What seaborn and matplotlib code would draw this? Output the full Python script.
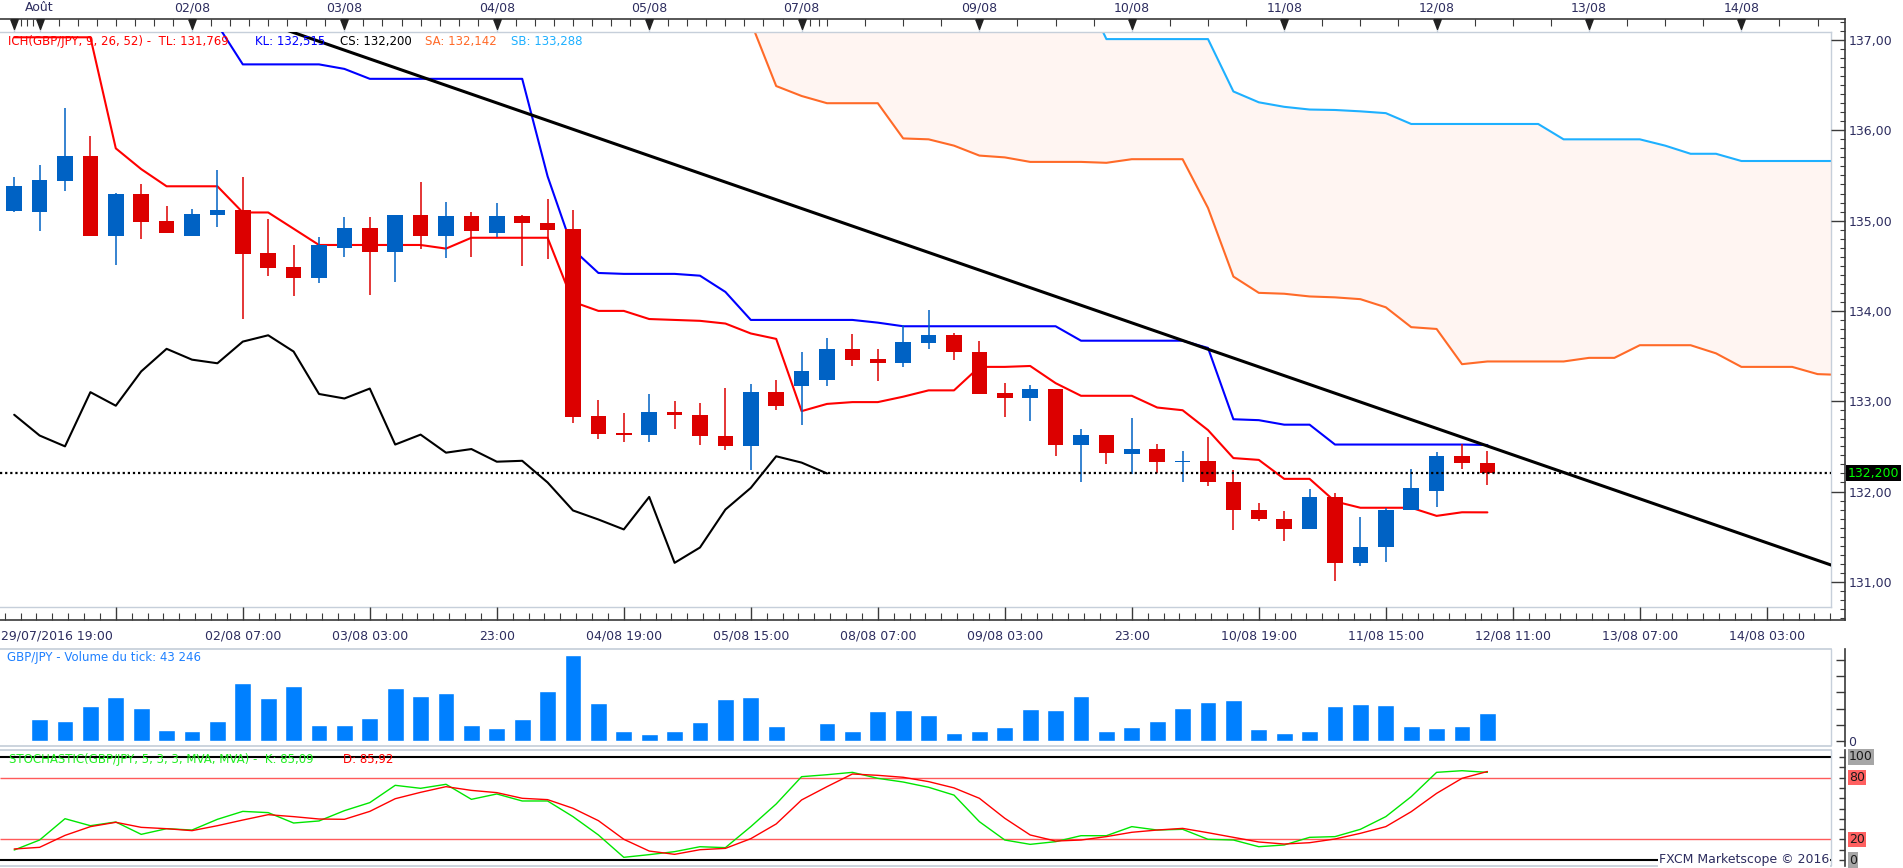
import matplotlib
matplotlib.use("Agg")
import matplotlib.pyplot as plt
from matplotlib.path import Path
from matplotlib.ticker import FixedLocator
import numpy as np
import pandas as pd
import seaborn as sns

# ---------------- data (4h bars, GBP/JPY) ----------------
opens = [135.11, 135.10, 135.44, 135.72, 134.83, 135.30, 135.00, 134.83, 135.06, 135.12,
         134.64, 134.49, 134.36, 134.70, 134.92, 134.65, 135.06, 134.83, 135.05, 134.86,
         135.05, 134.97, 134.91, 132.84, 132.65, 132.63, 132.88, 132.85, 132.62, 132.50,
         133.10, 133.17, 133.23, 133.58, 133.47, 133.42, 133.65, 133.73, 133.55, 133.09,
         133.03, 133.14, 132.52, 132.63, 132.41, 132.47, 132.33, 132.34, 132.10, 131.79,
         131.69, 131.58, 131.94, 131.21, 131.38, 131.80, 132.01, 132.39, 132.32]
highs = [135.48, 135.62, 136.25, 135.94, 135.31, 135.41, 135.16, 135.13, 135.56, 135.48,
         135.02, 134.73, 134.82, 135.04, 135.04, 135.06, 135.43, 135.21, 135.09, 135.20,
         135.06, 135.24, 135.12, 133.01, 132.87, 133.08, 133.00, 132.98, 133.15, 133.19,
         133.23, 133.54, 133.70, 133.74, 133.58, 133.84, 134.01, 133.76, 133.67, 133.20,
         133.18, 133.14, 132.69, 132.63, 132.81, 132.53, 132.45, 132.60, 132.24, 131.87,
         131.78, 132.03, 131.98, 131.72, 131.82, 132.25, 132.44, 132.53, 132.45]
lows = [135.10, 134.88, 135.33, 134.83, 134.51, 134.80, 134.86, 134.83, 134.93, 133.91,
        134.39, 134.17, 134.31, 134.60, 134.18, 134.32, 134.69, 134.59, 134.60, 134.82,
        134.50, 134.58, 132.76, 132.58, 132.55, 132.55, 132.69, 132.52, 132.46, 132.24,
        132.90, 132.74, 133.17, 133.39, 133.22, 133.38, 133.58, 133.46, 133.08, 132.83,
        132.78, 132.39, 132.10, 132.30, 132.19, 132.21, 132.10, 132.06, 131.57, 131.67,
        131.45, 131.58, 131.01, 131.18, 131.22, 131.79, 131.83, 132.25, 132.07]
closes = [135.38, 135.45, 135.72, 134.83, 135.30, 134.99, 134.86, 135.07, 135.12, 134.63,
          134.48, 134.36, 134.73, 134.92, 134.65, 135.06, 134.83, 135.05, 134.88, 135.05,
          134.97, 134.90, 132.83, 132.64, 132.63, 132.88, 132.85, 132.62, 132.50, 133.10,
          132.95, 133.33, 133.58, 133.46, 133.42, 133.66, 133.73, 133.55, 133.08, 133.03,
          133.14, 132.52, 132.63, 132.43, 132.47, 132.33, 132.34, 132.10, 131.79, 131.69,
          131.58, 131.94, 131.21, 131.38, 131.80, 132.04, 132.39, 132.32, 132.20]

tenkan = [137.03, 137.03, 137.03, 137.03, 135.80, 135.57, 135.38, 135.38, 135.38, 135.09,
          135.09, 134.91, 134.73, 134.73, 134.73, 134.73, 134.73, 134.69, 134.81, 134.81,
          134.81, 134.81, 134.10, 134.00, 134.00, 133.91, 133.90, 133.89, 133.86, 133.75,
          133.69, 132.89, 132.97, 132.99, 132.99, 133.05, 133.12, 133.12, 133.38, 133.38,
          133.39, 133.20, 133.06, 133.06, 133.06, 132.93, 132.90, 132.68, 132.37, 132.35,
          132.14, 132.14, 131.89, 131.82, 131.82, 131.82, 131.73, 131.77, 131.769]
kijun = [137.60, 137.60, 137.60, 137.60, 137.60, 137.60, 137.60, 137.60, 137.17, 136.73,
         136.73, 136.73, 136.73, 136.68, 136.57, 136.57, 136.57, 136.57, 136.57, 136.57,
         136.57, 135.49, 134.68, 134.42, 134.41, 134.41, 134.41, 134.39, 134.21, 133.90,
         133.90, 133.90, 133.90, 133.90, 133.87, 133.83, 133.83, 133.83, 133.83, 133.83,
         133.83, 133.83, 133.67, 133.67, 133.67, 133.67, 133.67, 133.59, 132.80, 132.79,
         132.74, 132.74, 132.52, 132.52, 132.52, 132.52, 132.52, 132.52, 132.515]
chikou_shift = 26
cloud_first_bar = 28
senkou_a = [137.60, 137.20, 136.49, 136.38, 136.30, 136.30, 136.30, 135.91, 135.90, 135.83,
            135.72, 135.70, 135.65, 135.65, 135.65, 135.64, 135.68, 135.68, 135.68, 135.14,
            134.38, 134.20, 134.19, 134.16, 134.15, 134.13, 134.04, 133.82, 133.80, 133.41,
            133.44, 133.44, 133.44, 133.44, 133.48, 133.48, 133.62, 133.62, 133.62, 133.53,
            133.38, 133.38, 133.38, 133.30, 133.29]
senkou_b = [137.60, 137.60, 137.60, 137.60, 137.60, 137.60, 137.60, 137.60, 137.60, 137.60,
            137.60, 137.60, 137.60, 137.60, 137.60, 137.01, 137.01, 137.01, 137.01, 137.01,
            136.43, 136.31, 136.26, 136.23, 136.225, 136.21, 136.19, 136.07, 136.07, 136.07,
            136.07, 136.07, 136.07, 135.90, 135.90, 135.90, 135.90, 135.83, 135.74, 135.74,
            135.66, 135.66, 135.66, 135.66, 135.66]
trend_bar = [10, 72]
trend_price = [137.18, 131.14]
last_price = 132.200

volume = [1500, 33980, 30890, 54050, 67950, 50970, 16990, 15440, 30890, 89580,
          66410, 84940, 24710, 24710, 35520, 81850, 69500, 74130, 24710, 20080,
          33980, 77220, 132820, 58690, 15440, 10810, 15440, 29340, 64870, 67950,
          23170, 1500, 27800, 15440, 46850, 47880, 40150, 12360, 15440, 21620,
          49420, 47880, 69500, 15440, 21620, 30890, 50970, 60230, 63320, 18530,
          12360, 15440, 54050, 57140, 55600, 23170, 20080, 23170, 43246]

stoch_k = [9.7, 19.4, 40.1, 33.3, 36.9, 24.9, 30.4, 29.1, 39.5, 47.2,
           46.0, 35.9, 37.9, 47.9, 55.7, 72.5, 69.6, 73.5, 58.9, 64.1,
           57.3, 57.3, 42.1, 24.3, 2.6, 5.2, 8.1, 12.9, 12.0, 32.4,
           54.4, 80.9, 82.8, 85.1, 79.3, 75.7, 70.6, 63.0, 37.2, 19.4,
           15.2, 17.8, 23.6, 23.6, 32.4, 29.1, 29.8, 20.1, 19.4, 12.9,
           14.6, 22.0, 22.7, 29.8, 42.1, 61.5, 85.1, 86.7, 85.09]
stoch_d = [10.7, 12.3, 23.9, 32.4, 36.6, 31.7, 30.4, 28.5, 33.3, 38.8,
           44.0, 42.1, 39.8, 39.5, 47.2, 59.5, 65.7, 71.2, 67.6, 65.4,
           59.9, 58.6, 50.2, 38.2, 20.1, 8.7, 5.5, 10.0, 11.3, 20.7,
           35.0, 58.3, 71.2, 83.5, 82.2, 80.3, 76.1, 70.0, 59.9, 40.5,
           24.3, 18.4, 19.4, 22.7, 26.9, 29.1, 30.7, 26.5, 22.0, 17.5,
           15.5, 16.8, 20.4, 25.9, 32.4, 46.9, 64.7, 79.3, 85.92]
stoch_levels = [100, 80, 20, 0]
stoch_level_labels = ["100", "80", "20", "0"]

price_ticks = [131, 132, 133, 134, 135, 136, 137]
price_tick_labels = ["131,00", "132,00", "133,00", "134,00", "135,00", "136,00", "137,00"]
day_label_bars = [1, 7, 13, 19, 25, 31, 38, 44, 50, 56, 62, 68]
day_labels = ["Août", "02/08", "03/08", "04/08", "05/08", "07/08", "09/08",
              "10/08", "11/08", "12/08", "13/08", "14/08"]
day_marker_bars = [0, 1, 7, 13, 19, 25, 31, 38, 44, 50, 56, 62, 68]
time_label_bars = [4, 9, 14, 19, 24, 29, 34, 39, 44, 49, 54, 59, 64, 69]
time_labels = ["", "02/08 07:00", "03/08 03:00", "23:00", "04/08 19:00", "05/08 15:00",
               "08/08 07:00", "09/08 03:00", "23:00", "10/08 19:00", "11/08 15:00",
               "12/08 11:00", "13/08 07:00", "14/08 03:00"]
first_time_label = "29/07/2016 19:00"

legend_parts = ["ICH(GBP/JPY, 9, 26, 52) -  TL: 131,769", "KL: 132,515", "CS: 132,200",
                "SA: 132,142", "SB: 133,288"]
volume_title = "GBP/JPY - Volume du tick: 43 246"
stoch_title_k = "STOCHASTIC(GBP/JPY, 5, 3, 3, MVA, MVA) -  K: 85,09"
stoch_title_d = "D: 85,92"

# ---------------- style / layout ----------------
sns.set_theme(style="white")
plt.rcParams["font.family"] = ["DejaVu Sans"]

W, H = 1903, 868
fig = plt.figure(figsize=(W / 100, H / 100), dpi=100, facecolor="white")

BLUE, RED = "#0062C4", "#DC0000"
LIGHT, DARK, NAVY = "#C6CFDA", "#3A3A3A", "#2D2D5F"


def frac_rect(x0, y0, x1, y1):
    return [x0 / W, 1 - y1 / H, (x1 - x0) / W, (y1 - y0) / H]


def px_to_bar(px):
    return (px - 14.2) / 25.4


def py_to_price(py):
    return 137.0 - (py - 40.0) / 90.3


def ftext(xp, yp, s, **kw):
    return fig.text(xp / W, 1 - yp / H, s, **kw)


PANEL_R, AXIS_R = 1831, 1845
x_left = px_to_bar(0)
x_panel = px_to_bar(PANEL_R)
x_axis = px_to_bar(AXIS_R)

n = len(closes)
bars = np.arange(n)
df = pd.DataFrame({"bar": bars, "open": opens, "high": highs, "low": lows, "close": closes})

# ---------------- main price panel ----------------
ax = fig.add_axes(frac_rect(0, 32, PANEL_R, 607))
ax.set_facecolor("white")
ax.set_xlim(x_left, x_panel)
ax.set_ylim(py_to_price(607), py_to_price(32))

cloud_bars = np.arange(cloud_first_bar, cloud_first_bar + len(senkou_a))
ax.fill_between(cloud_bars, senkou_a, senkou_b, color="#FFF5F2", lw=0, zorder=1)
sns.lineplot(x=cloud_bars, y=senkou_a, ax=ax, color="#FF6A28", lw=1.5, zorder=2)
sns.lineplot(x=cloud_bars, y=senkou_b, ax=ax, color="#1EB0FF", lw=1.5, zorder=2)
sns.lineplot(x=bars[: n - chikou_shift], y=closes[chikou_shift:], ax=ax, color="black", lw=1.5, zorder=3)
sns.lineplot(x=bars, y=kijun, ax=ax, color="#0000FF", lw=1.5, zorder=3)
sns.lineplot(x=bars, y=tenkan, ax=ax, color="#FF0000", lw=1.5, zorder=3)

up = df["close"] >= df["open"]
cols = np.where(up, BLUE, RED)
ax.vlines(df["bar"], df["low"], df["high"], colors=cols, lw=1.1, zorder=4)
body = np.maximum((df["close"] - df["open"]).abs(), 0.012)
ax.bar(df["bar"], body, bottom=np.minimum(df["open"], df["close"]), width=0.62,
       color=cols, lw=0, zorder=5)

sns.lineplot(x=trend_bar, y=trend_price, ax=ax, color="black", lw=2.2, zorder=6)
ax.axhline(last_price, color="black", lw=1.6, ls=(0, (1, 1.3)), zorder=7)

ax.set_xticks([])
ax.set_yticks([])
ax.set_xlabel("")
ax.set_ylabel("")
for s in ["top", "right", "bottom"]:
    ax.spines[s].set_color(LIGHT)
    ax.spines[s].set_linewidth(1)
ax.spines["left"].set_visible(False)

# legend text
legend_x = [8, 255, 340, 425, 511]
legend_c = ["#FF0000", "#0000FF", "#000000", "#FF6A28", "#1EB0FF"]
for xp, s, c in zip(legend_x, legend_parts, legend_c):
    ftext(xp, 41, s, color=c, fontsize=8.5, ha="left", va="center", zorder=10)

# ---------------- frame axes with price / time ticks ----------------
axf = fig.add_axes(frac_rect(0, 19.3, AXIS_R, 620))
axf.patch.set_alpha(0)
axf.set_xlim(x_left, x_axis)
axf.set_ylim(py_to_price(620), py_to_price(19.3))
for s in ["top", "right", "bottom"]:
    axf.spines[s].set_color(DARK)
    axf.spines[s].set_linewidth(1.2)
axf.spines["left"].set_visible(False)
axf.yaxis.tick_right()
axf.set_yticks(price_ticks, price_tick_labels)
axf.yaxis.set_minor_locator(FixedLocator(np.round(np.arange(130.6, 137.21, 0.1), 2)))
axf.tick_params(axis="y", which="major", direction="in", length=10, width=1, color=DARK,
                labelcolor=NAVY, labelsize=9, pad=2.5, right=True, left=False)
axf.tick_params(axis="y", which="minor", direction="in", length=3.6, width=0.8, color=DARK,
                right=True, left=False)
axf.set_xticks(time_label_bars, time_labels)
axf.xaxis.set_minor_locator(FixedLocator(np.arange(-0.375, 72.1, 0.625)))
axf.tick_params(axis="x", which="major", direction="in", length=9.4, width=1, color=DARK,
                labelcolor=NAVY, labelsize=9, pad=7, bottom=True, top=False)
axf.tick_params(axis="x", which="minor", direction="in", length=4.8, width=0.8, color=DARK,
                bottom=True, top=False)
ftext(1, 636, first_time_label, color=NAVY, fontsize=9, ha="left", va="center")

axt = axf.twiny()
axt.patch.set_alpha(0)
axt.set_xlim(x_left, x_axis)
for s in axt.spines.values():
    s.set_visible(False)
top_minor = np.concatenate([np.arange(0, 1, 0.25), np.arange(1, 31, 0.75),
                            [31, 31.33, 31.67], np.arange(32, 72.1, 1.5)])
axt.set_xticks(day_label_bars, day_labels)
axt.xaxis.set_minor_locator(FixedLocator(top_minor))
axt.tick_params(axis="x", which="major", direction="in", length=4.8, width=1, color=DARK,
                labelcolor=NAVY, labelsize=9, pad=3.5)
axt.tick_params(axis="x", which="minor", direction="in", length=4.8, width=0.8, color=DARK)
tri = Path([(-0.38, 0.5), (0.38, 0.5), (0.0, -0.5), (-0.38, 0.5)])
ytop = 1 - (32 - 19.3) / (620 - 19.3)
axt.vlines(day_marker_bars, ytop, 1, transform=axt.get_xaxis_transform(), color=LIGHT, lw=1)
axt.plot(day_marker_bars, [1 - 4.6 / 600.7] * len(day_marker_bars), ls="none", marker=tri,
         ms=7, color="#222222", transform=axt.get_xaxis_transform(), clip_on=False)

# current price box
ftext(1848, 473, "132,200", color="#00FF00", fontsize=9, ha="left", va="center",
      bbox=dict(boxstyle="square,pad=0.15", fc="black", ec="none"))

# ---------------- volume panel ----------------
VOL_PX = 1544.0
axv = fig.add_axes(frac_rect(0, 649, AXIS_R, 746))
axv.set_facecolor("white")
sns.barplot(x=bars, y=volume, native_scale=True, width=0.66, color="#0080FF", saturation=1,
            errorbar=None, ax=axv, zorder=3)
axv.set_xlim(x_left, x_axis)
axv.set_ylim(-(746 - 741) * VOL_PX, (741 - 649) * VOL_PX)
axv.set_xlabel("")
axv.set_ylabel("")
axv.set_xticks([])
axv.yaxis.tick_right()
axv.set_yticks(np.arange(0, 125001, 25000), ["0", "", "", "", "", ""])
axv.tick_params(axis="y", direction="in", length=6.5, width=1, color=DARK, labelcolor=NAVY,
                labelsize=9, pad=2.5, right=True, left=False)
axv.spines["left"].set_visible(False)
axv.spines["right"].set_color(DARK)
axv.spines["right"].set_linewidth(1.2)
for s in ["top", "bottom"]:
    axv.spines[s].set_color(LIGHT)
    axv.spines[s].set_bounds(x_left, x_panel)
axv.axvline(x_panel, color=LIGHT, lw=1)
ftext(7.5, 658, volume_title, color="#1E80FF", fontsize=8.5, ha="left", va="center")

# ---------------- stochastic panel ----------------
axs = fig.add_axes(frac_rect(0, 750, AXIS_R, 866))
axs.set_facecolor("white")
axs.set_xlim(x_left, x_axis)
axs.set_ylim(-6 / 1.03, 100 + 7 / 1.03)
axs.hlines([100, 0], x_left, x_panel, color="black", lw=1.5, zorder=2)
axs.hlines([80, 20], x_left, x_panel, color="#FF5A5A", lw=1, zorder=2)
sns.lineplot(x=bars, y=stoch_k, ax=axs, color="#00E600", lw=1, zorder=3)
sns.lineplot(x=bars, y=stoch_d, ax=axs, color="#FF0000", lw=1, zorder=3)
axs.set_xlabel("")
axs.set_ylabel("")
axs.set_xticks([])
axs.yaxis.tick_right()
axs.set_yticks(np.arange(0, 101, 10), [""] * 11)
axs.tick_params(axis="y", direction="in", length=4.5, width=1, color=DARK, right=True, left=False)
axs.spines["left"].set_visible(False)
axs.spines["right"].set_color(DARK)
axs.spines["right"].set_linewidth(1.2)
for s in ["top", "bottom"]:
    axs.spines[s].set_color(LIGHT)
    axs.spines[s].set_bounds(x_left, x_panel)
axs.axvline(x_panel, color=LIGHT, lw=1)
level_bg = ["#A6A6A6", "#FF6060", "#FF6060", "#A6A6A6"]
for v, lab, bg in zip(stoch_levels, stoch_level_labels, level_bg):
    axs.text(px_to_bar(1849), v, lab, ha="left", va="center", fontsize=9, color="#1A1A1A",
             bbox=dict(boxstyle="square,pad=0.1", fc=bg, ec="none"), clip_on=False)
ftext(9, 759, stoch_title_k, color="#22EE22", fontsize=8.5, ha="left", va="center")
ftext(343, 759, stoch_title_d, color="#FF0000", fontsize=8.5, ha="left", va="center")
ftext(1829, 860, "FXCM Marketscope © 2016", color=NAVY, fontsize=9, ha="right", va="center",
      bbox=dict(boxstyle="square,pad=0.1", fc="white", ec="none"))

fig.savefig("out.png", dpi=100, facecolor="white")
